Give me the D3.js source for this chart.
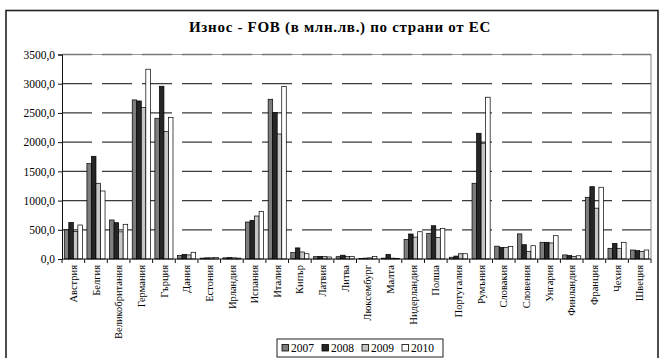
<!DOCTYPE html>
<html><head><meta charset="utf-8">
<script src="https://cdn.jsdelivr.net/npm/d3@7"></script>
<style>body{margin:0;background:#fff}svg{display:block}text{font-family:"Liberation Serif","Times New Roman",serif}</style>
</head><body>
<script>
const countries = ["Австрия","Белгия","Великобритания","Германия","Гърция","Дания","Естония","Ирландия","Испания","Италия","Кипър","Латвия","Литва","Люксембург","Малта","Нидерландия","Полша","Португалия","Румъния","Словакия","Словения","Унгария","Финландия","Франция","Чехия","Швеция"];
const years = ["2007","2008","2009","2010"];
const v2007 = [500,1632,668,2723,2409,60,15,20,633,2734,110,40,40,10,15,335,440,30,1296,220,430,286,70,1056,183,154];
const v2008 = [625,1758,622,2705,2957,80,20,25,662,2505,190,45,65,15,80,428,570,50,2152,200,245,286,60,1238,268,143];
const v2009 = [470,1296,465,2591,2180,70,20,20,736,2140,120,40,45,20,15,375,370,90,1981,195,130,275,45,870,183,131];
const v2010 = [582,1164,594,3248,2420,115,25,15,816,2955,90,35,45,45,10,467,525,90,2769,215,228,399,55,1228,286,154];
const yTicks = [0,500,1000,1500,2000,2500,3000,3500];
const title = "Износ - FOB (в млн.лв.) по страни от ЕС";
const series = [v2007,v2008,v2009,v2010];
const colors = ["#7d7d7d","#262626","#c6c6c6","#ffffff"];

const W=666,H=358;
const svg=d3.select("body").append("svg").attr("width",W).attr("height",H);

// outer frame
svg.append("rect").attr("x",6).attr("y",10.5).attr("width",652).attr("height",360)
  .attr("fill","none").attr("stroke","#222").attr("stroke-width",1.6);

svg.append("text").attr("x",340).attr("y",32).attr("text-anchor","middle")
  .attr("font-weight","bold").attr("font-size",15).attr("letter-spacing",0.7).text(title);

const x0=62,x1=651,yTop=54.5,yBot=259;
const y=d3.scaleLinear().domain([0,3500]).range([yBot,yTop]);
const x=d3.scaleBand().domain(countries).range([x0,x1]).paddingInner(0.2).paddingOuter(0.1);
const xs=d3.scaleBand().domain(years).range([0,x.bandwidth()]);

// plot border (top & right)
svg.append("path").attr("d",`M${x0},${yTop}H${x1}V${yBot}`).attr("fill","none").attr("stroke","#999").attr("stroke-width",1.2);

// gridlines
svg.append("g").selectAll("line").data(yTicks.filter(d=>d>0)).join("line")
  .attr("x1",x0).attr("x2",x1).attr("y1",d=>y(d)).attr("y2",d=>y(d))
  .attr("stroke",d=>d===3500?"#777":"#3a3a3a").attr("stroke-width",1.3).attr("stroke-dasharray","30,10");

// bars
const g=svg.append("g");
series.forEach((s,i)=>{
  g.append("g").selectAll("rect").data(s).join("rect")
    .attr("x",(d,j)=>x(countries[j])+xs(years[i]))
    .attr("y",d=>y(d)).attr("width",xs.bandwidth()).attr("height",d=>yBot-y(d))
    .attr("fill",colors[i]).attr("stroke","#000").attr("stroke-width",0.7);
});

// y axis
const ya=svg.append("g").attr("transform",`translate(${x0},0)`)
  .call(d3.axisLeft(y).tickValues(yTicks).tickSize(4).tickPadding(3).tickFormat(d=>d.toFixed(1).replace(".",",")));
ya.selectAll("text").attr("font-family",null).attr("font-size",11.5).attr("fill","#000");
ya.selectAll("line,path").attr("stroke","#111");

// x axis
const xa=svg.append("g").attr("transform",`translate(0,${yBot})`);
xa.append("line").attr("x1",x0).attr("x2",x1).attr("stroke","#111").attr("stroke-width",1);
const step=x.step();
xa.selectAll("line.tk").data(d3.range(countries.length+1)).join("line").attr("class","tk")
  .attr("x1",i=>x0+i*step).attr("x2",i=>x0+i*step).attr("y1",0).attr("y2",4).attr("stroke","#111");
xa.selectAll("text").data(countries).join("text")
  .attr("transform",d=>`translate(${x(d)+x.bandwidth()/2+3.6},6) rotate(-90)`)
  .attr("text-anchor","end").attr("font-size",10.5).attr("fill","#000").text(d=>d);

// legend
const lg=svg.append("g");
lg.append("rect").attr("x",277).attr("y",339).attr("width",166).attr("height",18)
  .attr("fill","#fff").attr("stroke","#222").attr("stroke-width",1);
years.forEach((yr,i)=>{
  const lx=282+i*40;
  lg.append("rect").attr("x",lx).attr("y",344.5).attr("width",6.5).attr("height",6.5)
    .attr("fill",colors[i]).attr("stroke","#000").attr("stroke-width",0.8);
  lg.append("text").attr("x",lx+9).attr("y",352).attr("font-size",11.5).text(yr);
});
</script>
</body></html>
